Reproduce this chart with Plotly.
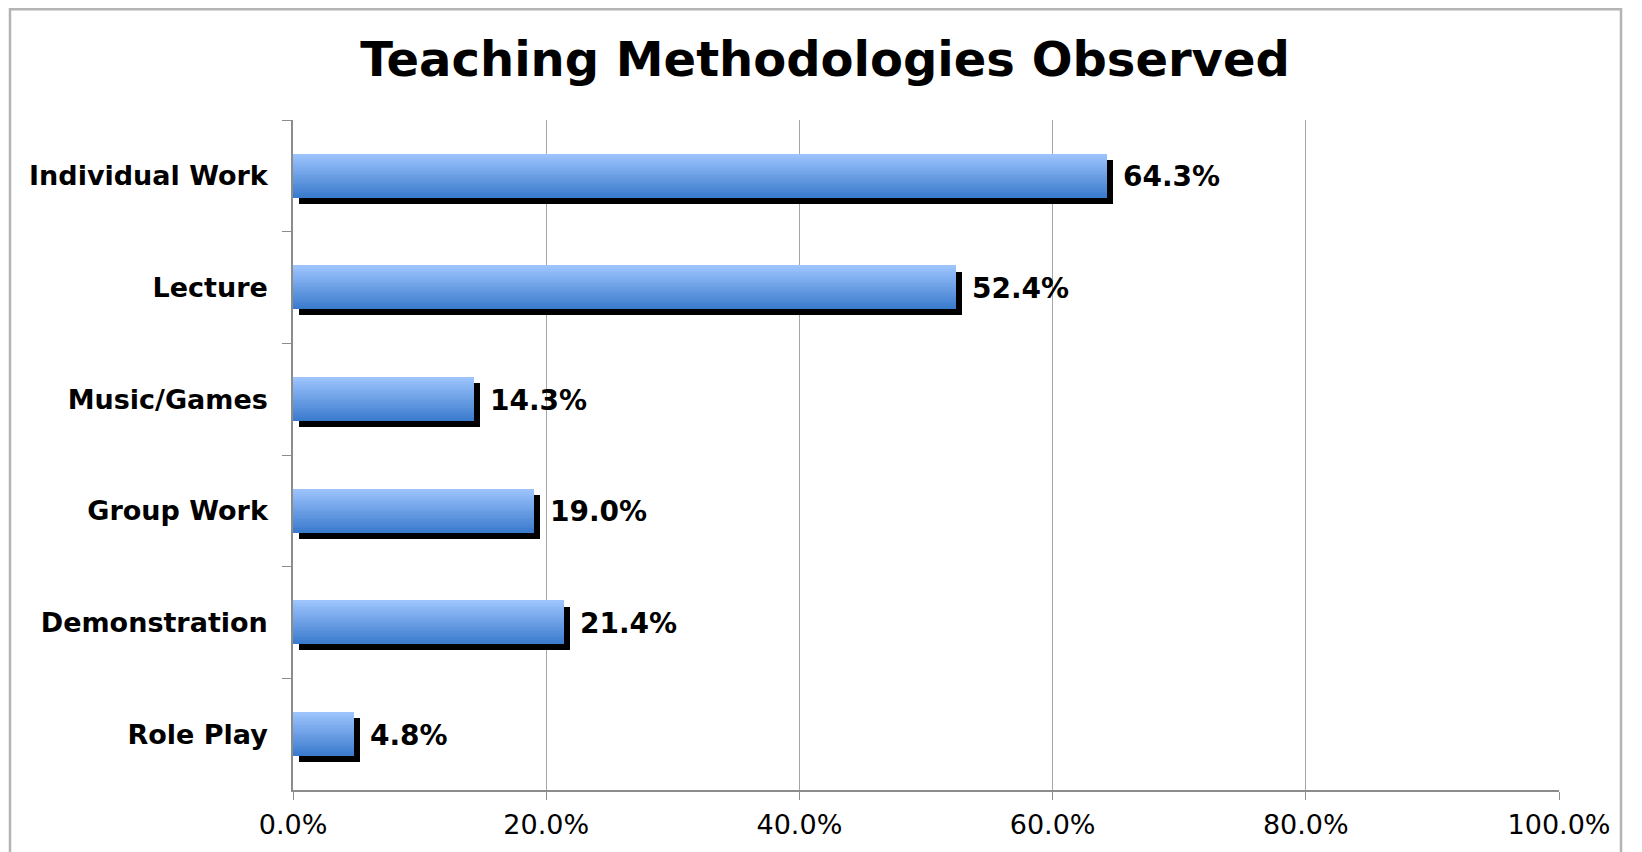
import plotly.graph_objects as go

categories = ["Individual Work", "Lecture", "Music/Games", "Group Work", "Demonstration", "Role Play"]
values = [64.3, 52.4, 14.3, 19.0, 21.4, 4.8]
x_ticks = [0, 20, 40, 60, 80, 100]
x_tick_labels = [f"{t:.1f}%" for t in x_ticks]

# page body adds an 8px margin, so the figure is drawn 8px in from the window corner
OFF = 8
W, H = 1642 - OFF, 852 - OFF
ML, MR, MT, MB = 293 - OFF, 83, 120 - OFF, 60
PW = W - ML - MR
PH = H - MT - MB

bar_h = 0.39
n_slices = 24
top_rgb = (157, 196, 253)
bot_rgb = (60, 124, 206)
shadow_dx = 6 / PW * 100
shadow_dy = 6 / (PH / 6)

fig = go.Figure()

fig.add_trace(go.Bar(
    y=categories, x=values, orientation="h",
    base=shadow_dx, width=bar_h, offset=-bar_h / 2 + shadow_dy,
    marker=dict(color="black", line=dict(width=0)),
    hoverinfo="skip", showlegend=False,
))

for i in range(n_slices):
    t = i / (n_slices - 1)
    c = tuple(round(top_rgb[k] + (bot_rgb[k] - top_rgb[k]) * t) for k in range(3))
    fig.add_trace(go.Bar(
        y=categories, x=values, orientation="h",
        width=bar_h / n_slices * 1.05, offset=-bar_h / 2 + i * bar_h / n_slices,
        marker=dict(color=f"rgb{c}", line=dict(width=0)),
        hoverinfo="skip", showlegend=False,
    ))

for cat, v in zip(categories, values):
    fig.add_annotation(
        x=v, y=cat, text=f"{v:.1f}%", showarrow=False,
        xanchor="left", yanchor="middle", xshift=14, yshift=-1,
        font=dict(family="DejaVu Sans", size=28, color="black", weight="bold"),
    )

# outer chart frame
fig.add_shape(
    type="rect", xref="paper", yref="paper",
    x0=(10 - OFF - ML) / PW, x1=(1621 - OFF - ML) / PW,
    y0=-0.12, y1=(MT + PH - (8.8 - OFF)) / PH,
    line=dict(color="#b4b4b4", width=2.5), layer="below",
)

fig.update_layout(
    width=W, height=H,
    margin=dict(l=ML, r=MR, t=MT, b=MB),
    paper_bgcolor="white", plot_bgcolor="white",
    barmode="overlay", bargap=0,
    title=dict(
        text="Teaching Methodologies Observed",
        x=(825 - OFF) / W, xanchor="center", xref="container",
        y=1 - (59.5 - OFF) / H, yanchor="middle", yref="container",
        font=dict(family="DejaVu Sans", size=48, color="black", weight="bold"),
    ),
    xaxis=dict(
        range=[0, 100], tickmode="array", tickvals=x_ticks, ticktext=x_tick_labels,
        showgrid=True, gridcolor="#a6a6a6", gridwidth=1,
        showline=True, linecolor="#8c8c8c", linewidth=1.5,
        ticks="outside", ticklen=8, tickcolor="#8c8c8c",
        ticklabelstandoff=2,
        zeroline=False,
        tickfont=dict(family="DejaVu Sans", size=27, color="black"),
    ),
    yaxis=dict(
        categoryorder="array", categoryarray=categories,
        range=[5.5, -0.5],
        showgrid=False, zeroline=False,
        showline=True, linecolor="#8c8c8c", linewidth=1.5,
        ticks="outside", ticklen=9, tickcolor="#8c8c8c", tickson="boundaries",
        ticklabelstandoff=18,
        tickfont=dict(family="DejaVu Sans", size=27, color="black", weight="bold"),
    ),
)

fig.write_html("out.html")
